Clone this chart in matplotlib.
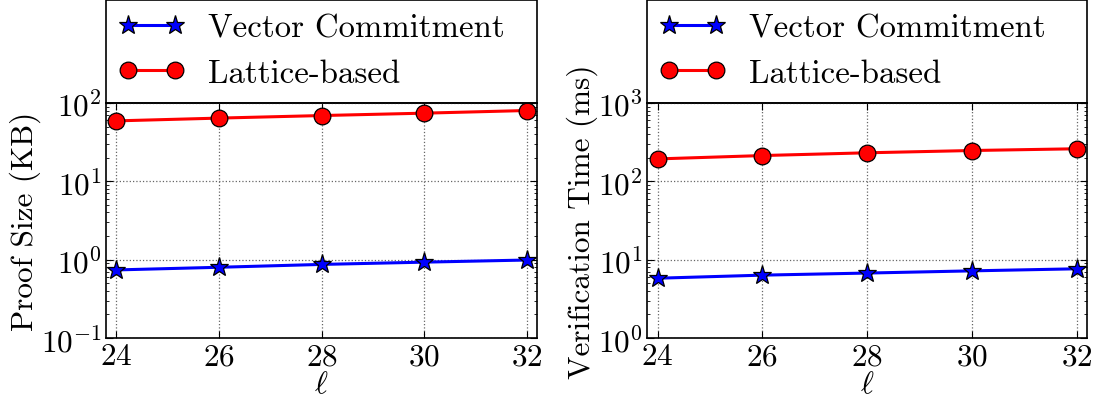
import matplotlib
matplotlib.use('Agg')
import matplotlib.pyplot as plt
from matplotlib.patches import Rectangle

# values
ell = [24, 26, 28, 30, 32]
proof_vc = [0.74, 0.80, 0.87, 0.93, 0.99]
proof_lattice = [59, 64, 69, 74, 80]
verify_vc = [5.8, 6.35, 6.75, 7.2, 7.65]
verify_lattice = [193, 213, 231, 247, 260]

series_labels = ['Vector Commitment', 'Lattice-based']
y_labels = ['Proof Size (KB)', 'Verification Time (ms)']
y_limits = [(0.1, 100), (1, 1000)]

plt.rcParams['font.family'] = 'serif'
plt.rcParams['font.serif'] = ['cmr10']
plt.rcParams['mathtext.fontset'] = 'cm'
plt.rcParams['axes.formatter.use_mathtext'] = True
plt.rcParams['axes.unicode_minus'] = False

fig = plt.figure(figsize=(11.01, 4.14), dpi=100)
ax1 = fig.add_axes([0.0963, 0.181, 0.3915, 0.568])
ax2 = fig.add_axes([0.5877, 0.181, 0.3996, 0.568])

panels = [(ax1, proof_vc, proof_lattice), (ax2, verify_vc, verify_lattice)]
for i, (ax, vc, lat) in enumerate(panels):
    ax.plot(ell, vc, color='b', lw=2.2, marker='*', ms=14,
            mec='k', mew=0.9, label=series_labels[0])
    ax.plot(ell, lat, color='r', lw=2.2, marker='o', ms=12,
            mec='k', mew=0.9, label=series_labels[1])
    ax.set_yscale('log')
    ax.set_ylim(*y_limits[i])
    ax.set_xlim(23.8, 32.2)
    ax.set_xticks(ell)
    ax.grid(True, which='major', ls=':', color='0.4', lw=0.9)
    ax.tick_params(which='both', direction='in', top=True, right=True, labelsize=22.5)
    ax.tick_params(which='major', length=5, pad=3)
    ax.tick_params(which='minor', length=2.5)
    ax.set_ylabel(y_labels[i], fontsize=22.5, labelpad=0)
    ax.set_xlabel(r'$\ell$', fontsize=22.5, labelpad=0)
    for s in ax.spines.values():
        s.set_linewidth(1.2)

    # legend box sitting on top of the axes
    ax.add_patch(Rectangle((0, 1), 1, 0.436, transform=ax.transAxes,
                           fill=False, ec='k', lw=1.2, clip_on=False))
    ax.legend(loc='upper left', bbox_to_anchor=(0.008, 1.415), borderaxespad=0,
              fontsize=23.6, numpoints=2, handlelength=2.05, borderpad=0.25,
              handletextpad=0.7, labelspacing=0.5, frameon=False)

fig.savefig('out.png', dpi=100)
